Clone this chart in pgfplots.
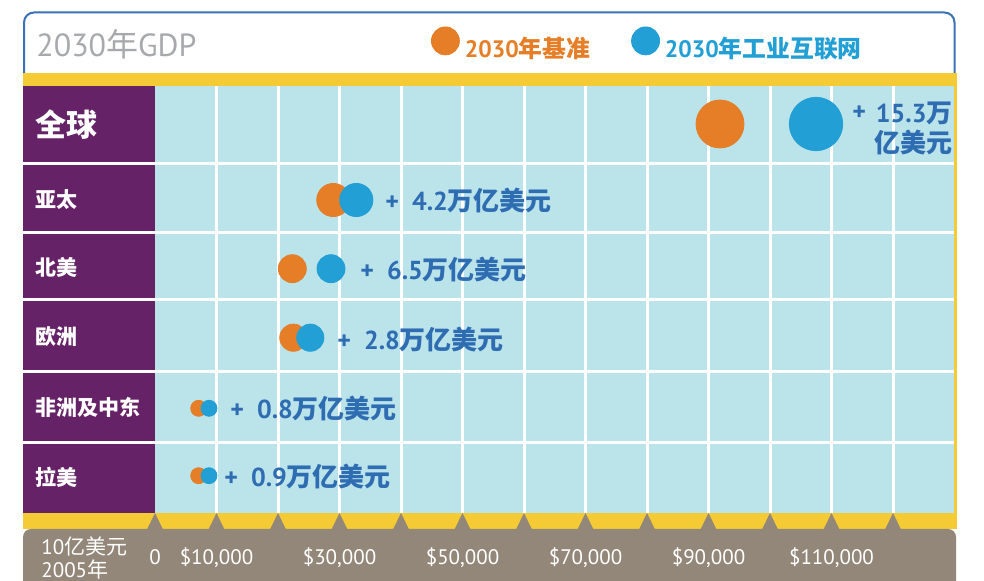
\documentclass[border=0pt]{standalone}
\usepackage{pgfplots}
\pgfplotsset{compat=1.18}
\usepackage{fontspec}
\setmainfont{PT Sans}
\newfontfamily\cjk{Noto Sans CJK SC}
\definecolor{purpleC}{HTML}{662266}
\definecolor{lightC}{HTML}{BBE3EA}
\definecolor{yellowC}{HTML}{F4CB34}
\definecolor{greyC}{HTML}{938779}
\definecolor{orangeC}{HTML}{E57E27}
\definecolor{blueC}{HTML}{229FD4}
\definecolor{textblueC}{HTML}{2F6DB3}
\definecolor{titleC}{HTML}{A7A9AC}
\definecolor{borderC}{HTML}{3A70B4}
\begin{document}
\begin{tikzpicture}
\path[use as bounding box] (0pt,0pt) rectangle (492pt,-290.5pt);
\clip (0pt,0pt) rectangle (492pt,-290.5pt);
\begin{scope}[x=0.5pt,y=-0.5pt]
% header box
\fill[white] (0,0) rectangle (984,581);
\draw[borderC, line width=1pt, rounded corners=5pt] (24,75) -- (24,12.5) -- (954.5,12.5) -- (954.5,75);
% yellow frame
\fill[yellowC] (23,73) rectangle (957,529);
% rows
\fill[lightC] (155,86) rectangle (953.5,513);
\fill[purpleC] (23,86) rectangle (155,513);
\foreach \i in {1,...,12} \draw[white, line width=1.5pt] ({155+61.5*\i},86) -- ({155+61.5*\i},513);
\foreach \y in {163.5,233,299.5,372,442.5} \draw[white, line width=1.5pt] (23,\y) -- (953.5,\y);
% grey bottom band
\fill[greyC, rounded corners=4pt] (23,620) -- (23,529) -- (956,529) -- (956,620) -- cycle;
\foreach \i in {0,...,12} \fill[greyC] ({155+61.5*\i-8},529.5) -- ({155+61.5*\i},513) -- ({155+61.5*\i+8},529.5) -- cycle;
% title
\node[anchor=west, inner sep=0pt, text=titleC, font=\fontsize{16}{18}\selectfont] at (36,44) {2030{\cjk 年}GDP};
% row labels
\node[anchor=west, inner sep=0pt, text=white, font=\cjk\bfseries\fontsize{15.5}{17}\selectfont] at (35,125) {全球};
\foreach \lab/\yy in {亚太/200, 北美/267, 欧洲/337, 非洲及中东/407, 拉美/477}
  \node[anchor=west, inner sep=0pt, text=white, font=\cjk\bfseries\fontsize{10.5}{12}\selectfont] at (35,\yy) {\lab};
% bottom unit label
\node[anchor=west, inner sep=0pt, text=white, align=left, font=\fontsize{10.5}{11.5}\selectfont] at (41,558) {10{\cjk 亿美元}\\2005{\cjk 年}};
% value labels
\begin{scope}[every node/.style={inner sep=0pt, text=textblueC, font=\bfseries\fontsize{13}{15}\selectfont}]
\node[anchor=west] at (852,113) {+};
\node[anchor=east] at (953,113) {15.3{\cjk 万}};
\node[anchor=east] at (953,143) {\cjk 亿美元};
\node[anchor=west] at (385,201) {+\hspace{6.5pt}4.2{\cjk 万亿美元}};
\node[anchor=west] at (360,270) {+\hspace{6.5pt}6.5{\cjk 万亿美元}};
\node[anchor=west] at (337,340) {+\hspace{6.5pt}2.8{\cjk 万亿美元}};
\node[anchor=west] at (230,409) {+\hspace{6.5pt}0.8{\cjk 万亿美元}};
\node[anchor=west] at (224,477) {+\hspace{6.5pt}0.9{\cjk 万亿美元}};
\end{scope}
\end{scope}
\begin{axis}[
  at={(0pt,0pt)}, anchor=north west,
  width=492pt, height=290.5pt, scale only axis,
  xmin=-25203.25, xmax=134796.75, ymin=0, ymax=581,
  axis line style={draw=none}, tick style={draw=none}, major tick length=0pt,
  ytick=\empty, scaled x ticks=false,
  xtick={0,10000,30000,50000,70000,90000,110000},
  xticklabels={\mbox{0},\mbox{\$10,000},\mbox{\$30,000},\mbox{\$50,000},\mbox{\$70,000},\mbox{\$90,000},\mbox{\$110,000}},
  /pgf/number format/assume math mode=true,
  xticklabel style={text=white, font=\fontsize{10.5}{12}\selectfont, anchor=base, yshift=8pt},
  clip=false,
  legend style={at={(0.438,0.925)}, anchor=west, draw=none, fill=none, inner sep=0pt, outer sep=0pt,
    legend columns=2, font=\bfseries\fontsize{11.9}{14}\selectfont,
    nodes={inner sep=0pt}, column sep=2.5pt,
    /tikz/every even column/.append style={column sep=20.5pt}},
  legend cell align=left,
  legend image code/.code={\fill[#1] (7pt,4pt) circle (7pt);},
]
% 全球
\addplot[only marks, mark=*, color=orangeC, mark options={draw=none}, mark size=12pt] coordinates {(91870,457)};
\addlegendentry{\textcolor{orangeC}{2030{\cjk 年基准}}}
\addplot[only marks, mark=*, color=blueC, mark options={draw=none}, mark size=13.35pt] coordinates {(107480,457)};
\addlegendentry{\textcolor{blueC}{2030{\cjk 年工业互联网}}}
% 亚太
\addplot[forget plot, only marks, mark=*, color=orangeC, mark options={draw=none}, mark size=8.3pt] coordinates {(28990,381)};
\addplot[forget plot, only marks, mark=*, color=blueC, mark options={draw=none}, mark size=8.3pt] coordinates {(32730,381)};
% 北美
\addplot[forget plot, only marks, mark=*, color=orangeC, mark options={draw=none}, mark size=7pt] coordinates {(22330,312.3)};
\addplot[forget plot, only marks, mark=*, color=blueC, mark options={draw=none}, mark size=7pt] coordinates {(28620,312.3)};
% 欧洲
\addplot[forget plot, only marks, mark=*, color=orangeC, mark options={draw=none}, mark size=6.8pt] coordinates {(22490,243.3)};
\addplot[forget plot, only marks, mark=*, color=blueC, mark options={draw=none}, mark size=6.8pt] coordinates {(25250,243.3)};
% 非洲及中东
\addplot[forget plot, only marks, mark=*, color=orangeC, mark options={draw=none}, mark size=4pt] coordinates {(7100,172.7)};
\addplot[forget plot, only marks, mark=*, color=blueC, mark options={draw=none}, mark size=4pt] coordinates {(8780,172.7)};
% 拉美
\addplot[forget plot, only marks, mark=*, color=orangeC, mark options={draw=none}, mark size=4pt] coordinates {(7100,105.3)};
\addplot[forget plot, only marks, mark=*, color=blueC, mark options={draw=none}, mark size=4pt] coordinates {(8780,105.3)};
\end{axis}
\end{tikzpicture}
\end{document}
